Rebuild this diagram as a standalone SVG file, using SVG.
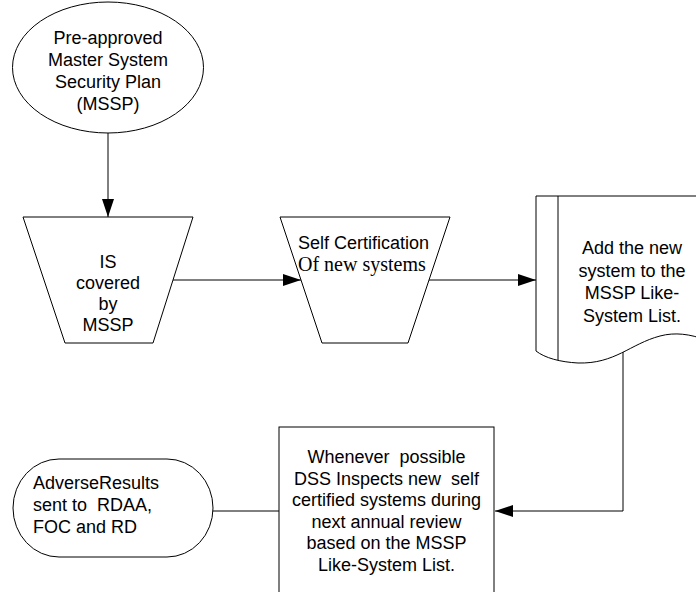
<svg xmlns="http://www.w3.org/2000/svg" width="696" height="592" viewBox="0 0 696 592">
  <style>
    .shape { fill: #ffffff; stroke: #000000; stroke-width: 1; }
    .conn { fill: none; stroke: #000000; stroke-width: 1; }
    .lbl { font-family: "Liberation Sans", Arial, sans-serif; font-size: 18px; fill: #000000; }
    .mid { text-anchor: middle; }
    .serif { font-family: "Liberation Serif", "Times New Roman", serif; font-size: 20px; }
  </style>
  <defs>
    <marker id="arrow" markerUnits="userSpaceOnUse" markerWidth="18" markerHeight="12" refX="18" refY="6" orient="auto">
      <path d="M0,0 L18,6 L0,12 z" fill="#000000"/>
    </marker>
  </defs>
  <rect width="696" height="592" fill="#ffffff"/>

  <g id="connectors">
    <line class="conn" x1="108" y1="133" x2="108" y2="217" marker-end="url(#arrow)"/>
    <line class="conn" x1="173" y1="280" x2="301" y2="280" marker-end="url(#arrow)"/>
    <line class="conn" x1="429" y1="280" x2="536" y2="280" marker-end="url(#arrow)"/>
    <polyline class="conn" points="623,352 623,511 495,511" marker-end="url(#arrow)"/>
    <line class="conn" x1="213" y1="511" x2="279" y2="511"/>
  </g>

  <g id="mssp-plan">
    <ellipse class="shape" cx="108" cy="67.5" rx="95.5" ry="65.5"/>
    <text class="lbl mid" x="108" y="44">Pre-approved</text>
    <text class="lbl mid" x="108" y="66">Master System</text>
    <text class="lbl mid" x="108" y="88">Security Plan</text>
    <text class="lbl mid" x="108" y="110">(MSSP)</text>
  </g>

  <g id="is-covered">
    <polygon class="shape" points="23,217 193,217 153,343 65,343"/>
    <text class="lbl mid" x="108" y="268">IS</text>
    <text class="lbl mid" x="108" y="289">covered</text>
    <text class="lbl mid" x="108" y="310">by</text>
    <text class="lbl mid" x="108" y="331">MSSP</text>
  </g>

  <g id="self-certification">
    <polygon class="shape" points="280,217 450,217 408,343 322,343"/>
    <text class="lbl" x="298" y="249">Self Certification</text>
    <text class="lbl serif" x="298" y="271">Of new systems</text>
  </g>

  <g id="like-system-list">
    <path class="shape" d="M536,196 L706,196 L706,340 C690,334 675,332 660,336 C630,344 615,364 578,363 C560,362 545,358 536,351 Z"/>
    <line class="conn" x1="558" y1="196" x2="558" y2="360"/>
    <text class="lbl mid" x="632" y="254">Add the new</text>
    <text class="lbl mid" x="632" y="277">system to the</text>
    <text class="lbl mid" x="632" y="299">MSSP Like-</text>
    <text class="lbl mid" x="632" y="322">System List.</text>
  </g>

  <g id="dss-inspection">
    <rect class="shape" x="279" y="427" width="215" height="180"/>
    <text class="lbl mid" x="386.5" y="463" xml:space="preserve">Whenever  possible</text>
    <text class="lbl mid" x="386.5" y="485" xml:space="preserve">DSS Inspects new  self</text>
    <text class="lbl mid" x="386.5" y="506">certified systems during</text>
    <text class="lbl mid" x="386.5" y="528">next annual review</text>
    <text class="lbl mid" x="386.5" y="549">based on the MSSP</text>
    <text class="lbl mid" x="386.5" y="571">Like-System List.</text>
  </g>

  <g id="adverse-results">
    <rect class="shape" x="13" y="459" width="200" height="98" rx="46" ry="49"/>
    <text class="lbl" x="33" y="489">AdverseResults</text>
    <text class="lbl" x="33" y="511" xml:space="preserve">sent to  RDAA,</text>
    <text class="lbl" x="33" y="533">FOC and RD</text>
  </g>
</svg>
